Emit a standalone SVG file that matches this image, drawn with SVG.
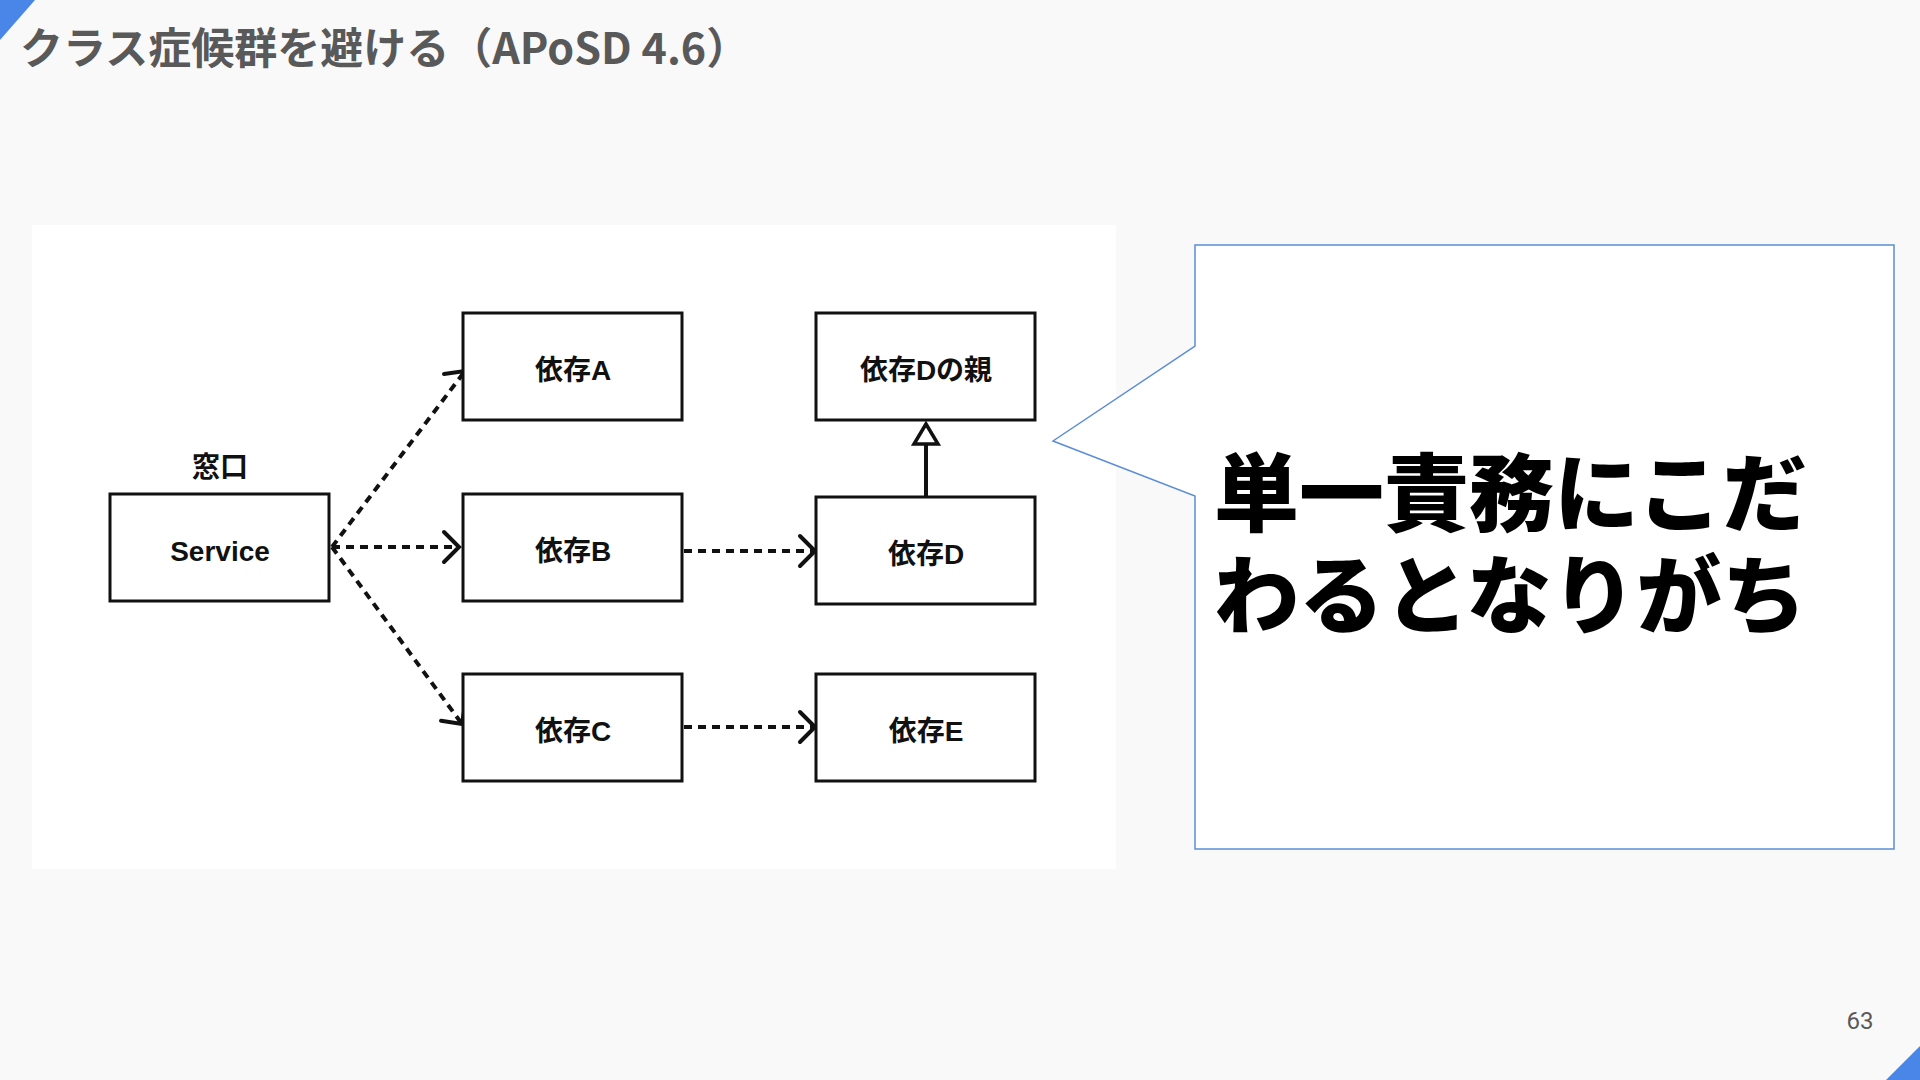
<svg xmlns="http://www.w3.org/2000/svg" width="1920" height="1080" viewBox="0 0 1920 1080">
<defs>
<style>
.box{fill:#ffffff;stroke:#111111;stroke-width:3}
.lbl{font-family:"Liberation Sans","Noto Sans CJK JP",sans-serif;font-weight:bold;font-size:28px;fill:#111111;text-anchor:middle}
.dep{fill:none;stroke:#111111;stroke-width:4;stroke-dasharray:8 6}
.title{font-family:"Noto Sans CJK JP","Noto Sans",sans-serif;font-weight:bold;font-size:43px;fill:#595959}
.big{font-family:"Noto Sans CJK JP",sans-serif;font-weight:900;font-size:85px;fill:#000000}
</style>
<marker id="open" markerUnits="userSpaceOnUse" viewBox="-20 -20 24 40" refX="0" refY="0" markerWidth="24" markerHeight="40" orient="auto">
<path d="M -15 -15 L 0 0 L -15 15" fill="none" stroke="#111111" stroke-width="4" stroke-linecap="round" stroke-linejoin="miter"/>
</marker>
</defs>
<rect x="0" y="0" width="1920" height="1080" fill="#f9f9f9"/>
<polygon points="0,0 35,0 0,40" fill="#4a86e8"/>
<polygon points="1886,1080 1920,1046 1920,1080" fill="#4a86e8"/>
<text class="title" x="20" y="64">クラス症候群を避ける（APoSD 4.6）</text>
<text x="1860" y="1029" font-family="Roboto,'Liberation Sans',sans-serif" font-size="24" fill="#595959" text-anchor="middle">63</text>
<rect x="32" y="225" width="1084" height="644" fill="#ffffff"/>
<g id="connectors">
<line class="dep" x1="332" y1="547" x2="465" y2="371" marker-end="url(#open)"/>
<line class="dep" x1="332" y1="547" x2="459" y2="547" marker-end="url(#open)"/>
<line class="dep" x1="332" y1="547" x2="462" y2="724" marker-end="url(#open)"/>
<line class="dep" x1="684" y1="551" x2="815" y2="551" marker-end="url(#open)"/>
<line class="dep" x1="684" y1="727" x2="815" y2="727" marker-end="url(#open)"/>
<line x1="926" y1="496" x2="926" y2="444" stroke="#111111" stroke-width="4"/>
<polygon points="926,424 914,444 938,444" fill="#ffffff" stroke="#111111" stroke-width="3.5" stroke-linejoin="miter"/>
</g>
<g id="service">
<text class="lbl" x="220" y="477">窓口</text>
<rect class="box" x="110" y="494" width="219" height="107"/>
<text class="lbl" x="220" y="561">Service</text>
</g>
<g id="depA">
<rect class="box" x="463" y="313" width="219" height="107"/>
<text class="lbl" x="573" y="380">依存A</text>
</g>
<g id="depB">
<rect class="box" x="463" y="494" width="219" height="107"/>
<text class="lbl" x="573" y="561">依存B</text>
</g>
<g id="depC">
<rect class="box" x="463" y="674" width="219" height="107"/>
<text class="lbl" x="573" y="741">依存C</text>
</g>
<g id="depDparent">
<rect class="box" x="816" y="313" width="219" height="107"/>
<text class="lbl" x="926" y="380">依存Dの親</text>
</g>
<g id="depD">
<rect class="box" x="816" y="497" width="219" height="107"/>
<text class="lbl" x="926" y="564">依存D</text>
</g>
<g id="depE">
<rect class="box" x="816" y="674" width="219" height="107"/>
<text class="lbl" x="926" y="741">依存E</text>
</g>
<g id="callout">
<path d="M1195,245 L1894,245 L1894,849 L1195,849 L1195,496 L1053,441 L1195,346 Z" fill="#ffffff" stroke="#5b8dd8" stroke-width="1.5"/>
<text class="big" x="1214" y="525">単一責務にこだ</text>
<text class="big" x="1214" y="627">わるとなりがち</text>
</g>
</svg>
